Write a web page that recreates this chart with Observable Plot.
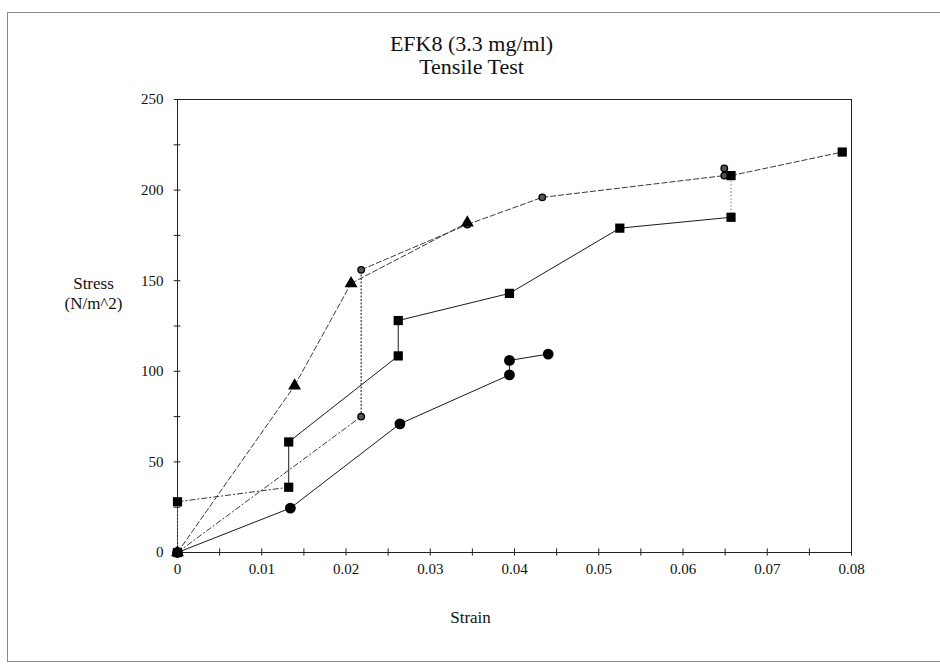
<!DOCTYPE html>
<html><head><meta charset="utf-8">
<script src="https://cdn.jsdelivr.net/npm/d3@7"></script>
<script src="https://cdn.jsdelivr.net/npm/@observablehq/plot@0.6"></script>
<style>
body{margin:0;background:#fff;}
#wrap{position:relative;width:940px;height:664px;overflow:hidden;}
#border{position:absolute;left:7px;top:12px;width:940px;height:650px;border:1px solid #888;border-right:none;box-sizing:border-box;pointer-events:none;}
#chart{position:absolute;left:0;top:0;}
</style></head><body>
<div id="wrap"><div id="chart"></div><div id="border"></div></div>
<script>
// ---- text ----
const titleLines = ["EFK8 (3.3 mg/ml)", "Tensile Test"];
const xTitle = "Strain";
const yTitleLines = ["Stress", "(N/m^2)"];

// ---- ticks ----
const xTicks = [0, 0.01, 0.02, 0.03, 0.04, 0.05, 0.06, 0.07, 0.08];
const xTickLabels = ["0", "0.01", "0.02", "0.03", "0.04", "0.05", "0.06", "0.07", "0.08"];
const xMinorTicks = [0, 0.005, 0.01, 0.015, 0.02, 0.025, 0.03, 0.035, 0.04, 0.045, 0.05, 0.055, 0.06, 0.065, 0.07, 0.075, 0.08];
const yTicks = [0, 50, 100, 150, 200, 250];
const yTickLabels = ["0", "50", "100", "150", "200", "250"];
const yMinorTicks = [0, 25, 50, 75, 100, 125, 150, 175, 200, 225, 250];

// ---- series (strain, stress) ----
// squares
const squareX = [0, 0, 0.0132, 0.0132, 0.0262, 0.0262, 0.0394, 0.0525, 0.0657, 0.0657, 0.0789];
const squareY = [0, 28, 36, 61, 108.5, 128, 143, 179, 185, 208, 221];
const squareSeg = ["dotted", "dashdot", "solid", "solid", "solid", "solid", "solid", "solid", "dotted", "dashed"];
// triangles
const triX = [0, 0.0139, 0.0206, 0.0344];
const triY = [0, 92, 148.5, 182];
const triSeg = ["dashed", "dashed", "dashed"];
// small circles
const smallX = [0, 0.0218, 0.0218, 0.0344, 0.0433, 0.0649, 0.0649];
const smallY = [0, 75, 156, 181, 196, 208, 212];
const smallSeg = ["dashdot", "dotdark", "dashed", "dashed", "dashed", "dotted"];
// large circles
const bigX = [0, 0.0134, 0.0264, 0.0394, 0.0394, 0.0440];
const bigY = [0, 24.5, 71, 98, 106, 109.5];
const bigSeg = ["solid", "solid", "solid", "solid", "solid"];

// ---- build tables ----
function pts(X, Y) { return X.map((x, i) => ({x, y: Y[i]})); }
function segs(X, Y, S) { return S.map((s, i) => ({x1: X[i], y1: Y[i], x2: X[i + 1], y2: Y[i + 1], style: s})); }
const allSegs = [
  ...segs(squareX, squareY, squareSeg),
  ...segs(triX, triY, triSeg),
  ...segs(smallX, smallY, smallSeg),
  ...segs(bigX, bigY, bigSeg)
];
const styles = {
  solid:   {stroke: "#1a1a1a", strokeWidth: 1, strokeDasharray: null},
  dashed:  {stroke: "#3a3a3a", strokeWidth: 1, strokeDasharray: "6,2"},
  dashdot: {stroke: "#3a3a3a", strokeWidth: 1, strokeDasharray: "6,2,2,2"},
  dotted:  {stroke: "#777", strokeWidth: 1, strokeDasharray: "1.5,2"},
  dotdark: {stroke: "#444", strokeWidth: 1.3, strokeDasharray: "2,1.5"}
};
const segMarks = Object.entries(styles).map(([k, st]) =>
  Plot.link(allSegs.filter(d => d.style === k), {x1: "x1", y1: "y1", x2: "x2", y2: "y2", ...st})
);

const font = "'Liberation Serif', 'Times New Roman', serif";

const chart = Plot.plot({
  width: 940,
  height: 664,
  marginLeft: 177,
  marginRight: 89,
  marginTop: 99,
  marginBottom: 112,
  style: {fontFamily: font, fontSize: "15px", color: "#111", background: "transparent", overflow: "visible"},
  x: {domain: [0, 0.08]},
  y: {domain: [0, 250]},
  marks: [
    Plot.frame({stroke: "#222", strokeWidth: 1}),
    Plot.ruleY(yMinorTicks, {y: d => d, x1: -0.0004, x2: 0.0004, stroke: "#222"}),
    Plot.ruleX(xMinorTicks, {x: d => d, y1: -2, y2: 2, stroke: "#222"}),
    Plot.axisX({ticks: xTicks, tickSize: 0, tickPadding: 11, tickFormat: d => xTickLabels[xTicks.indexOf(d)], label: null, fontSize: 15}),
    Plot.axisY({ticks: yTicks, tickSize: 0, tickPadding: 14, tickFormat: d => yTickLabels[yTicks.indexOf(d)], label: null, fontSize: 15}),
    ...segMarks,
    Plot.dot(pts(smallX, smallY), {x: "x", y: "y", r: 3.3, fill: "#555", stroke: "#000", strokeWidth: 1.3}),
    Plot.dot(pts(bigX, bigY), {x: "x", y: "y", r: 5.4, fill: "#000"}),
    Plot.dot(pts(triX, triY), {x: "x", y: "y", symbol: "triangle", r: 4.8, fill: "#000"}),
    Plot.dot(pts(squareX, squareY), {x: "x", y: "y", symbol: "square", r: 5.2, fill: "#000"}),
    Plot.text([titleLines[0]], {frameAnchor: "top", lineAnchor: "middle", textAnchor: "middle", dx: -43, dy: -56, fontSize: 22, fill: "#111"}),
    Plot.text([titleLines[1]], {frameAnchor: "top", lineAnchor: "middle", textAnchor: "middle", dx: -43, dy: -33, fontSize: 22, fill: "#111"}),
    Plot.text([yTitleLines[0]], {frameAnchor: "left", lineAnchor: "middle", textAnchor: "middle", dx: -84, dy: -42, fontSize: 17, fill: "#111"}),
    Plot.text([yTitleLines[1]], {frameAnchor: "left", lineAnchor: "middle", textAnchor: "middle", dx: -84, dy: -22, fontSize: 17, fill: "#111"}),
    Plot.text([xTitle], {frameAnchor: "bottom", lineAnchor: "middle", textAnchor: "middle", dx: -44, dy: 65, fontSize: 17, fill: "#111"})
  ]
});
document.getElementById("chart").appendChild(chart);
</script>
</body></html>
